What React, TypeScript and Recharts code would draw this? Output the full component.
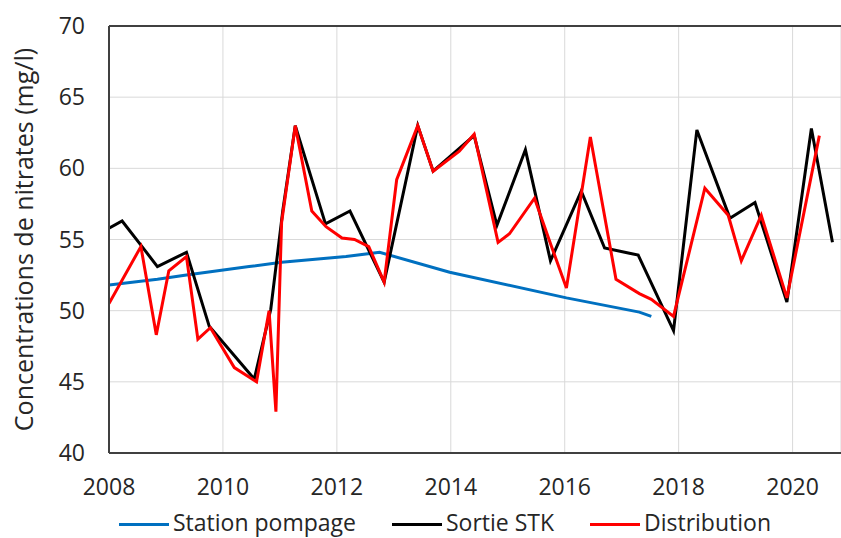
import { LineChart, Line, XAxis, YAxis, CartesianGrid, Legend, ReferenceLine } from 'recharts';

const xTicks = [2008, 2010, 2012, 2014, 2016, 2018, 2020];
const yTicks = [40, 45, 50, 55, 60, 65, 70];

const pompageYears = [2008.0, 2008.85, 2009.36, 2010.46, 2011.03, 2012.16, 2012.75, 2013.98, 2016.03, 2017.31, 2017.52];
const pompageValues = [51.8, 52.2, 52.5, 53.1, 53.4, 53.8, 54.1, 52.7, 50.9, 49.9, 49.6];

const stkYears = [
  2008.0, 2008.23, 2008.56, 2008.85, 2009.36, 2009.76, 2010.55, 2010.84, 2011.05, 2011.27,
  2011.8, 2012.23, 2012.83, 2013.42, 2013.69, 2014.41, 2014.81, 2015.31, 2015.75, 2016.29,
  2016.7, 2017.29, 2017.91, 2018.32, 2018.9, 2019.34, 2019.9, 2020.33, 2020.7,
];
const stkValues = [
  55.8, 56.3, 54.6, 53.1, 54.1, 48.9, 45.2, 50.1, 57.0, 63.0,
  56.1, 57.0, 52.0, 63.0, 59.8, 62.3, 56.0, 61.3, 53.5, 58.4,
  54.4, 53.9, 48.6, 62.7, 56.5, 57.6, 50.6, 62.8, 54.8,
];

const distYears = [
  2008.0, 2008.56, 2008.83, 2009.05, 2009.36, 2009.56, 2009.78, 2010.2, 2010.59, 2010.81,
  2010.93, 2011.03, 2011.27, 2011.56, 2011.81, 2012.09, 2012.31, 2012.56, 2012.83, 2013.05,
  2013.42, 2013.69, 2014.15, 2014.41, 2014.83, 2015.03, 2015.47, 2015.76, 2016.03, 2016.45,
  2016.9, 2017.31, 2017.52, 2017.91, 2018.46, 2018.87, 2019.1, 2019.45, 2019.9, 2020.47,
];
const distValues = [
  50.5, 54.5, 48.3, 52.8, 53.8, 48.0, 48.8, 46.0, 45.0, 50.0,
  42.9, 56.2, 63.0, 57.0, 55.9, 55.1, 55.0, 54.5, 52.0, 59.2,
  63.0, 59.8, 61.2, 62.4, 54.8, 55.4, 57.9, 54.6, 51.6, 62.2,
  52.2, 51.2, 50.8, 49.6, 58.6, 56.7, 53.5, 56.7, 50.9, 62.3,
];

const seriesNames = ['Station pompage', 'Sortie STK', 'Distribution'];
const seriesColors = ['#0070C0', '#000000', '#FF0000'];

const toPoints = (xs: number[], ys: number[]) => xs.map((x, i) => ({ x, y: ys[i] }));

const pompage = toPoints(pompageYears, pompageValues);
const stk = toPoints(stkYears, stkValues);
const dist = toPoints(distYears, distValues);

const FONT = '"Open Sans", sans-serif';

function LegendBox() {
  const lefts = [119, 392, 590];
  return (
    <div style={{ position: 'relative', height: 30, width: 841, fontFamily: FONT }}>
      {seriesNames.map((name, i) => (
        <div key={name}>
          <div
            style={{
              position: 'absolute',
              left: lefts[i],
              top: 15,
              width: 50,
              height: 3,
              background: seriesColors[i],
            }}
          />
          <div
            style={{
              position: 'absolute',
              left: lefts[i] + 54,
              top: 3,
              fontSize: 23,
              lineHeight: '23px',
              color: '#262626',
              whiteSpace: 'nowrap',
            }}
          >
            {name}
          </div>
        </div>
      ))}
    </div>
  );
}

export default function App() {
  return (
    <div style={{ width: 841, height: 538, overflow: 'hidden', background: '#fff' }}>
      <style>{'body{margin:0;}'}</style>
      <LineChart
        width={841}
        height={538}
        margin={{ top: 26, right: 0, bottom: 0, left: 0 }}
        style={{ fontFamily: FONT }}
      >
        <CartesianGrid stroke="#d9d9d9" strokeWidth={1} />
        <XAxis
          type="number"
          dataKey="x"
          domain={[2008, 2020.85]}
          ticks={xTicks}
          allowDataOverflow
          tickLine={false}
          tickSize={0}
          tickMargin={26}
          height={55}
          axisLine={{ stroke: '#404040', strokeWidth: 2 }}
          tick={{ fill: '#262626', fontSize: 23 }}
        />
        <YAxis
          type="number"
          dataKey="y"
          domain={[40, 70]}
          ticks={yTicks}
          width={109}
          tickLine={false}
          tickSize={0}
          tickMargin={24}
          axisLine={{ stroke: '#404040', strokeWidth: 2 }}
          tick={{ fill: '#262626', fontSize: 23 }}
          label={{
            value: 'Concentrations de nitrates (mg/l)',
            angle: -90,
            position: 'center',
            dx: -30,
            style: { fill: '#262626', fontSize: 25, fontFamily: FONT },
          }}
        />
        <ReferenceLine y={70} stroke="#404040" strokeWidth={2} />
        <Legend verticalAlign="bottom" height={30} content={() => <LegendBox />} />
        <Line
          data={pompage}
          dataKey="y"
          name={seriesNames[0]}
          stroke={seriesColors[0]}
          strokeWidth={3}
          dot={false}
          isAnimationActive={false}
        />
        <Line
          data={stk}
          dataKey="y"
          name={seriesNames[1]}
          stroke={seriesColors[1]}
          strokeWidth={3}
          dot={false}
          isAnimationActive={false}
        />
        <Line
          data={dist}
          dataKey="y"
          name={seriesNames[2]}
          stroke={seriesColors[2]}
          strokeWidth={3}
          dot={false}
          isAnimationActive={false}
        />
      </LineChart>
    </div>
  );
}
